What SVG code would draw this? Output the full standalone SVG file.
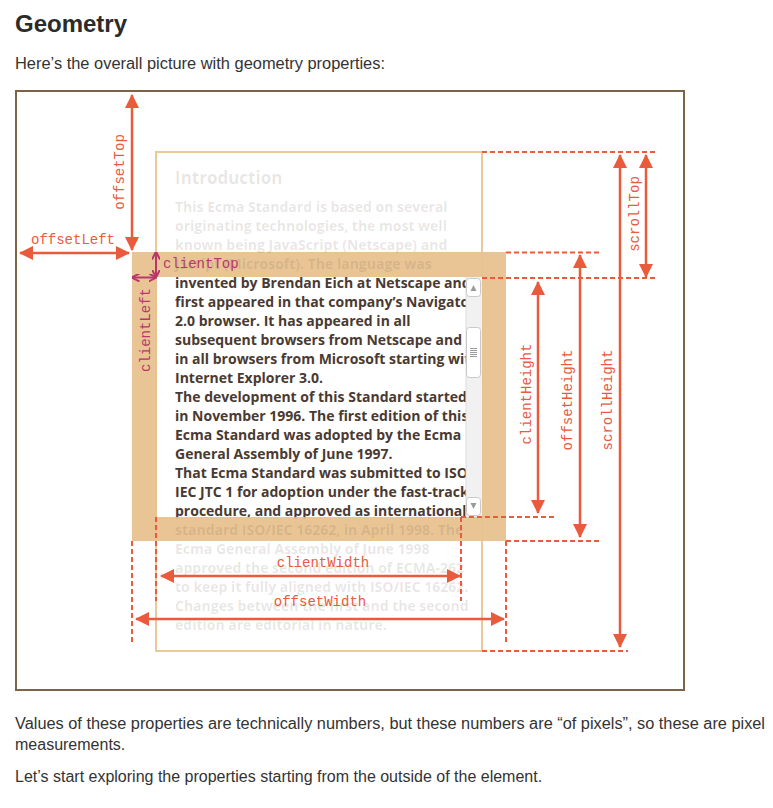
<svg xmlns="http://www.w3.org/2000/svg" xmlns:xlink="http://www.w3.org/1999/xlink" width="773" height="808" viewBox="0 0 773 808">
<style>
.prose{font-family:"Liberation Sans",Arial,sans-serif;fill:#333;font-size:16px}
.h1{font-family:"Liberation Sans",Arial,sans-serif;fill:#2b2b2b;font-size:24px;font-weight:bold}
.body{font-family:"Open Sans","Noto Sans",sans-serif;font-weight:bold;font-size:14px}
.intro{font-size:17px}
.lbl{font-family:"Liberation Mono","Courier New",monospace;font-size:14px;fill:#ea5a3c}
.lblm{font-family:"Liberation Mono","Courier New",monospace;font-size:14px;fill:#b8386b}
.dim{stroke:#ea5a3c;stroke-width:2.5;fill:none;marker-start:url(#ar);marker-end:url(#ar)}
.dimm{stroke:#b8386b;stroke-width:2;fill:none;marker-start:url(#am);marker-end:url(#am)}
.dash{stroke:#ea5a3c;stroke-width:2;stroke-dasharray:5 3;fill:none}
</style>
<defs>
<marker id="ar" viewBox="0 0 14 14" refX="13" refY="7" markerWidth="14" markerHeight="14" markerUnits="userSpaceOnUse" orient="auto-start-reverse"><path d="M0,0 L14,7 L0,14 z" fill="#ea5a3c"/></marker>
<marker id="am" viewBox="0 0 8 8" refX="7.5" refY="4" markerWidth="8" markerHeight="8" markerUnits="userSpaceOnUse" orient="auto-start-reverse"><path d="M0,0 L8,4 L0,8" fill="none" stroke="#b8386b" stroke-width="2"/></marker>
<clipPath id="clientClip"><rect x="157" y="277" width="309" height="240"/></clipPath>
<g id="para" class="body">
<text x="175" y="184" class="intro">Introduction</text>
<text x="175" y="211.5">This Ecma Standard is based on several</text>
<text x="175" y="230.5">originating technologies, the most well</text>
<text x="175" y="249.5">known being JavaScript (Netscape) and</text>
<text x="175" y="268.5">JScript (Microsoft). The language was</text>
<text x="175" y="287.5">invented by Brendan Eich at Netscape and</text>
<text x="175" y="306.5">first appeared in that company’s Navigator</text>
<text x="175" y="325.5">2.0 browser. It has appeared in all</text>
<text x="175" y="344.5">subsequent browsers from Netscape and</text>
<text x="175" y="363.5">in all browsers from Microsoft starting with</text>
<text x="175" y="382.5">Internet Explorer 3.0.</text>
<text x="175" y="401.5">The development of this Standard started</text>
<text x="175" y="420.5">in November 1996. The first edition of this</text>
<text x="175" y="439.5">Ecma Standard was adopted by the Ecma</text>
<text x="175" y="458.5">General Assembly of June 1997.</text>
<text x="175" y="477.5">That Ecma Standard was submitted to ISO/</text>
<text x="175" y="496.5">IEC JTC 1 for adoption under the fast-track</text>
<text x="175" y="515.5">procedure, and approved as international</text>
<text x="175" y="534.5">standard ISO/IEC 16262, in April 1998. The</text>
<text x="175" y="553.5">Ecma General Assembly of June 1998</text>
<text x="175" y="572.5">approved the second edition of ECMA-262</text>
<text x="175" y="591.5">to keep it fully aligned with ISO/IEC 16262.</text>
<text x="175" y="610.5">Changes between the first and the second</text>
<text x="175" y="629.5">edition are editorial in nature.</text>
</g>
</defs>
<rect width="773" height="808" fill="#fff"/>

<g id="header">
<text x="15" y="32" class="h1">Geometry</text>
<text x="15" y="69" class="prose" textLength="370" lengthAdjust="spacingAndGlyphs">Here’s the overall picture with geometry properties:</text>
</g>

<g id="frame"><rect x="16" y="91" width="668" height="599" fill="none" stroke="#7e6446" stroke-width="2"/></g>

<g id="element">
<rect x="156" y="152" width="326" height="499" fill="none" stroke="#ebc899" stroke-width="2"/>
<rect x="132" y="252" width="374" height="289" fill="#e8c290" fill-opacity="0.95"/>
<use xlink:href="#para" href="#para" fill="#4a3a31" fill-opacity="0.12"/>
<rect x="157" y="277" width="325" height="240" fill="#fff"/>
<use xlink:href="#para" href="#para" fill="#4a3a31" clip-path="url(#clientClip)"/>
</g>

<g id="scrollbar">
<rect x="466" y="277" width="16" height="240" fill="#f1f1f1"/>
<line x1="466" y1="277" x2="466" y2="517" stroke="#dedede"/>
<rect x="466.5" y="278.5" width="14" height="18" rx="3" fill="#fff" stroke="#c9c9c9"/>
<path d="M470.5,291 L473.5,285 L476.5,291 z" fill="#9a9a9a"/>
<rect x="466.5" y="327.5" width="14" height="50" rx="3" fill="#fff" stroke="#c9c9c9"/>
<path d="M470,348.5 h7 M470,350.5 h7 M470,352.5 h7 M470,354.5 h7 M470,356.5 h7" stroke="#9a9a9a" stroke-width="1"/>
<rect x="466.5" y="497.5" width="14" height="18" rx="3" fill="#fff" stroke="#c9c9c9"/>
<path d="M470.5,503 L476.5,503 L473.5,509 z" fill="#9a9a9a"/>
</g>

<g id="connectors">
<line class="dash" x1="482" y1="152" x2="656" y2="152"/>
<line class="dash" x1="506" y1="252.5" x2="600" y2="252.5"/>
<line class="dash" x1="482" y1="278" x2="656" y2="278"/>
<line class="dash" x1="461" y1="517" x2="555" y2="517"/>
<line class="dash" x1="506" y1="541" x2="600" y2="541"/>
<line class="dash" x1="482" y1="651" x2="628" y2="651"/>
<line class="dash" x1="156" y1="517" x2="156" y2="601"/>
<line class="dash" x1="461" y1="517" x2="461" y2="601"/>
<line class="dash" x1="132" y1="541" x2="132" y2="642"/>
<line class="dash" x1="506" y1="541" x2="506" y2="642"/>

<line class="dim" x1="132" y1="95" x2="132" y2="250"/>
<line class="dim" x1="20" y1="253" x2="129" y2="253"/>
<line class="dim" x1="161" y1="576" x2="460" y2="576"/>
<line class="dim" x1="136" y1="619" x2="504" y2="619"/>
<line class="dim" x1="538" y1="282" x2="538" y2="513"/>
<line class="dim" x1="580" y1="255" x2="580" y2="537"/>
<line class="dim" x1="620" y1="155" x2="620" y2="647"/>
<line class="dim" x1="646" y1="155" x2="646" y2="277"/>
<line class="dimm" x1="156" y1="252" x2="156" y2="277"/>
<line class="dimm" x1="132" y1="277.5" x2="156" y2="277.5"/>
</g>

<g id="labels">
<text class="lbl" transform="translate(124,172) rotate(-90)" text-anchor="middle">offsetTop</text>
<text class="lbl" x="73" y="244" text-anchor="middle">offsetLeft</text>
<text class="lblm" x="163" y="268">clientTop</text>
<text class="lblm" transform="translate(150,330) rotate(-90)" text-anchor="middle">clientLeft</text>
<text class="lbl" x="323" y="567" text-anchor="middle">clientWidth</text>
<text class="lbl" x="320" y="606" text-anchor="middle">offsetWidth</text>
<text class="lbl" transform="translate(531,394) rotate(-90)" text-anchor="middle">clientHeight</text>
<text class="lbl" transform="translate(572,400) rotate(-90)" text-anchor="middle">offsetHeight</text>
<text class="lbl" transform="translate(612,400) rotate(-90)" text-anchor="middle">scrollHeight</text>
<text class="lbl" transform="translate(639,214) rotate(-90)" text-anchor="middle">scrollTop</text>
</g>

<g id="footer">
<text x="15" y="729" class="prose" textLength="750" lengthAdjust="spacingAndGlyphs">Values of these properties are technically numbers, but these numbers are “of pixels”, so these are pixel</text>
<text x="15" y="750" class="prose">measurements.</text>
<text x="15" y="782" class="prose">Let’s start exploring the properties starting from the outside of the element.</text>
</g>
</svg>
